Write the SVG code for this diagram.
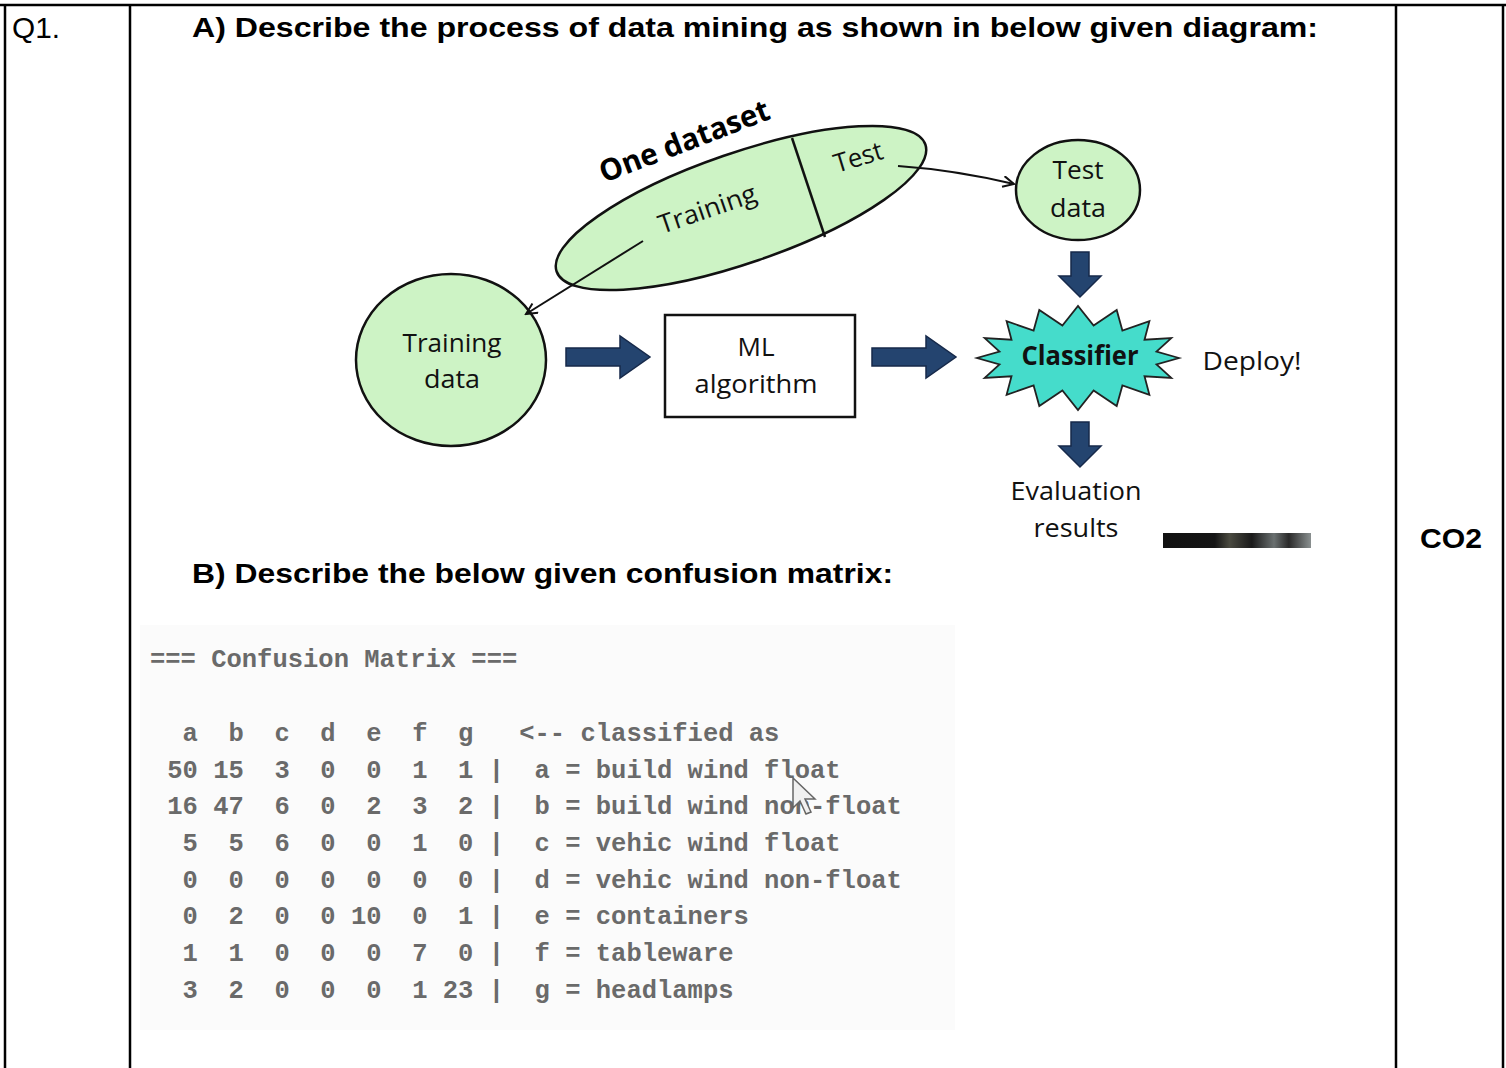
<svg xmlns="http://www.w3.org/2000/svg" width="1506" height="1068" viewBox="0 0 1506 1068">
<style>
.tbl{stroke:#000;stroke-width:2.5;fill:none}
.hd{font-family:"Liberation Sans",Arial,sans-serif;font-weight:bold;font-size:27px;fill:#000}
.q{font-family:"Liberation Sans",Arial,sans-serif;font-size:29px;fill:#000}
.lbl{font-family:"Open Sans","Noto Sans",sans-serif;font-size:26px;fill:#111;text-anchor:middle}
.node{fill:#cdf3c5;stroke:#111;stroke-width:2.5}
.blk{fill:#24446f;stroke:#16294a;stroke-width:1.5}
.con{fill:none;stroke:#111;stroke-width:2;marker-end:url(#ah)}
.cm{font-family:"Liberation Mono","Courier New",monospace;font-size:25.5px;font-weight:bold;fill:#6a6a6a;white-space:pre}
</style>
<defs>
<marker id="ah" markerWidth="14" markerHeight="14" refX="12" refY="6" orient="auto" markerUnits="userSpaceOnUse">
<path d="M1,0.5 L12,6 L1,11.5" fill="none" stroke="#111" stroke-width="2"/>
</marker>
<path id="rarr" d="M0,-9 H54 V-21 L84,0 L54,21 V9 H0 Z"/>
<path id="darr" d="M-9,0 V24 H-21 L0,45 L21,24 H9 V0 Z"/>
<linearGradient id="bar" x1="0" x2="1" y1="0" y2="0">
<stop offset="0" stop-color="#111"/>
<stop offset="0.35" stop-color="#151515"/>
<stop offset="0.45" stop-color="#4a4a40"/>
<stop offset="0.6" stop-color="#1a1a1a"/>
<stop offset="0.75" stop-color="#6a7070"/>
<stop offset="0.85" stop-color="#2a2a2a"/>
<stop offset="1" stop-color="#8a9090"/>
</linearGradient>
</defs>

<g id="table">
<line class="tbl" x1="0" y1="5" x2="1506" y2="5"/>
<line class="tbl" x1="5" y1="5" x2="5" y2="1068"/>
<line class="tbl" x1="130" y1="5" x2="130" y2="1068"/>
<line class="tbl" x1="1396" y1="5" x2="1396" y2="1068"/>
<line class="tbl" x1="1503" y1="5" x2="1503" y2="1068"/>
<text class="q" x="12" y="38" textLength="48" lengthAdjust="spacingAndGlyphs">Q1.</text>
<text class="hd" x="192" y="37" textLength="1126" lengthAdjust="spacingAndGlyphs">A)  Describe the process of data mining as shown in below given diagram:</text>
<text class="hd" x="192" y="583" textLength="701" lengthAdjust="spacingAndGlyphs">B) Describe the below given confusion matrix:</text>
<text class="hd" x="1420" y="548" textLength="62" lengthAdjust="spacingAndGlyphs">CO2</text>
</g>

<g id="dataset">
<ellipse class="node" cx="741" cy="208" rx="195" ry="55" transform="rotate(-19 741 208)"/>
<line x1="792" y1="138" x2="825" y2="237" stroke="#111" stroke-width="2.5"/>
<text transform="translate(604,183) rotate(-21)" style="font-family:'Open Sans','Noto Sans',sans-serif;font-weight:bold;font-size:30px;fill:#000" textLength="180" lengthAdjust="spacingAndGlyphs">One dataset</text>
<text transform="translate(662,234) rotate(-19)" style="font-family:'Open Sans','Noto Sans',sans-serif;font-size:26px;fill:#111" textLength="102" lengthAdjust="spacingAndGlyphs">Training</text>
<text transform="translate(837,173) rotate(-17)" style="font-family:'Open Sans','Noto Sans',sans-serif;font-size:26px;fill:#111" textLength="50" lengthAdjust="spacingAndGlyphs">Test</text>
</g>

<g id="training-data">
<ellipse class="node" cx="451" cy="360" rx="95" ry="86"/>
<text class="lbl" x="452" y="352" textLength="99" lengthAdjust="spacingAndGlyphs">Training</text>
<text class="lbl" x="452" y="388" textLength="56" lengthAdjust="spacingAndGlyphs">data</text>
</g>

<g id="ml-algorithm">
<rect x="665" y="315" width="190" height="102" fill="#fff" stroke="#111" stroke-width="2.5"/>
<text class="lbl" x="756" y="356" textLength="37" lengthAdjust="spacingAndGlyphs">ML</text>
<text class="lbl" x="756" y="393" textLength="123" lengthAdjust="spacingAndGlyphs">algorithm</text>
</g>

<g id="test-data">
<ellipse class="node" cx="1078" cy="190" rx="62" ry="50"/>
<text class="lbl" x="1078" y="179" textLength="51" lengthAdjust="spacingAndGlyphs">Test</text>
<text class="lbl" x="1078" y="217" textLength="56" lengthAdjust="spacingAndGlyphs">data</text>
</g>

<g id="classifier">
<polygon fill="#45dccb" stroke="#222" stroke-width="1.8" points="1179,358 1156.5,351.6 1171.3,338.1 1144.5,339.7 1149.4,321.2 1122.4,330.6 1116.7,310 1093.6,325.6 1078,306 1062.4,325.6 1039.3,310 1033.6,330.6 1006.6,321.2 1011.5,339.7 984.7,338.1 999.5,351.6 977,358 999.5,364.4 984.7,377.9 1011.5,376.3 1006.6,394.8 1033.6,385.4 1039.3,406 1062.4,390.4 1078,410 1093.6,390.4 1116.7,406 1122.4,385.4 1149.4,394.8 1144.5,376.3 1171.3,377.9 1156.5,364.4"/>
<text class="lbl" x="1080" y="365" style="font-weight:bold" textLength="117" lengthAdjust="spacingAndGlyphs">Classifier</text>
</g>

<g id="deploy">
<text class="lbl" x="1252" y="370" textLength="99" lengthAdjust="spacingAndGlyphs">Deploy!</text>
</g>

<g id="evaluation">
<text class="lbl" x="1076" y="500" textLength="131" lengthAdjust="spacingAndGlyphs">Evaluation</text>
<text class="lbl" x="1076" y="537" textLength="85" lengthAdjust="spacingAndGlyphs">results</text>
</g>

<g id="connectors">
<path class="con" d="M643,241 L526,314"/>
<path class="con" d="M898,166 Q955,170 1014,184"/>
<use href="#rarr" class="blk" transform="translate(566,357)"/>
<use href="#rarr" class="blk" transform="translate(872,357)"/>
<use href="#darr" class="blk" transform="translate(1080,252)"/>
<use href="#darr" class="blk" transform="translate(1080,422)"/>
</g>

<rect x="1163" y="533" width="148" height="15" fill="url(#bar)"/>

<g id="confusion-matrix">
<rect x="140" y="625" width="815" height="405" fill="#fbfbfb"/>
<text class="cm" x="150" y="667">=== Confusion Matrix ===</text>
<text class="cm" x="152" y="741">  a  b  c  d  e  f  g   &lt;-- classified as</text>
<text class="cm" x="152" y="778"> 50 15  3  0  0  1  1 |  a = build wind float</text>
<text class="cm" x="152" y="814"> 16 47  6  0  2  3  2 |  b = build wind non-float</text>
<text class="cm" x="152" y="851">  5  5  6  0  0  1  0 |  c = vehic wind float</text>
<text class="cm" x="152" y="888">  0  0  0  0  0  0  0 |  d = vehic wind non-float</text>
<text class="cm" x="152" y="924">  0  2  0  0 10  0  1 |  e = containers</text>
<text class="cm" x="152" y="961">  1  1  0  0  0  7  0 |  f = tableware</text>
<text class="cm" x="152" y="998">  3  2  0  0  0  1 23 |  g = headlamps</text>
<polygon points="793,778 793,808 800,801 806,814 811,812 805,799 815,799" fill="#f0f0f0" stroke="#666" stroke-width="1.5"/>
</g>
</svg>
